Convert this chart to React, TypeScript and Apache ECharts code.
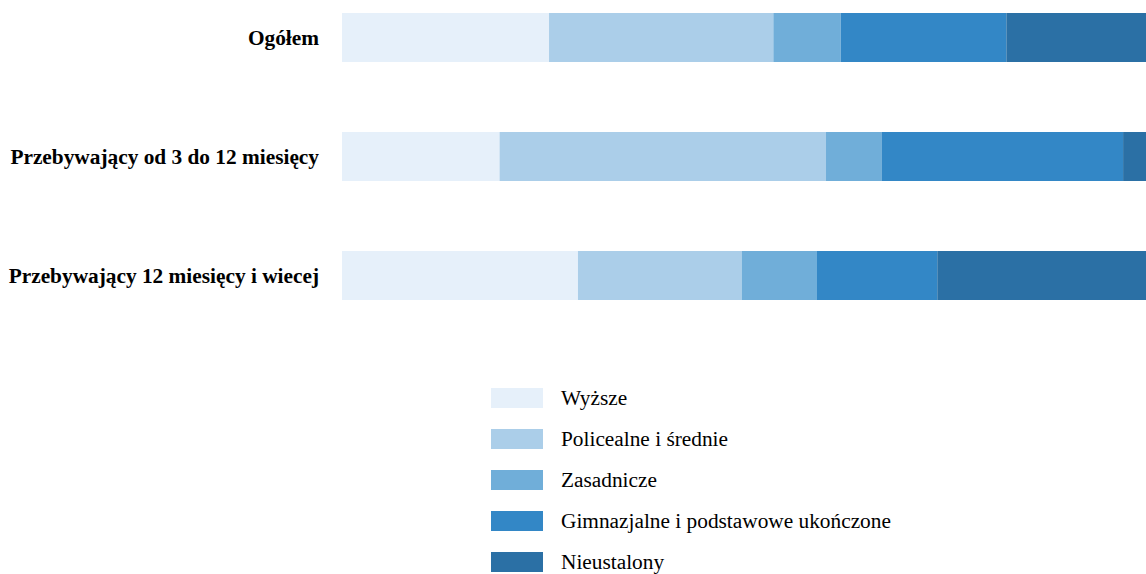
import React, { useEffect, useRef } from "react";
import * as echarts from "echarts";

const categories = [
  "Ogółem",
  "Przebywający od 3 do 12 miesięcy",
  "Przebywający 12 miesięcy i wiecej",
];
const seriesNames = [
  "Wyższe",
  "Policealne i średnie",
  "Zasadnicze",
  "Gimnazjalne i podstawowe ukończone",
  "Nieustalony",
];
const wyzsze = [25.75, 19.6, 29.35];
const policealne = [27.9, 40.6, 20.36];
const zasadnicze = [8.38, 6.9, 9.37];
const gimnazjalne = [20.6, 30.05, 14.96];
const nieustalony = [17.37, 2.85, 25.96];
const colors = ["#e6f0fa", "#abcee9", "#70aed9", "#3387c6", "#2b70a5"];

export default function App() {
  const ref = useRef<HTMLDivElement>(null);
  useEffect(() => {
    document.body.style.margin = "0";
    const chart = echarts.init(ref.current!, null, { renderer: "svg" });
    const data = [wyzsze, policealne, zasadnicze, gimnazjalne, nieustalony];
    chart.setOption({
      animation: false,
      color: colors,
      grid: { left: 342, right: 0, top: 37.5, height: 238, containLabel: false },
      xAxis: {
        type: "value",
        min: 0,
        max: 100,
        show: false,
      },
      yAxis: {
        type: "category",
        data: categories,
        inverse: true,
        boundaryGap: false,
        axisLine: { show: false },
        axisTick: { show: false },
        splitLine: { show: false },
        axisLabel: {
          margin: 23,
          fontFamily: "Liberation Serif",
          fontWeight: "bold",
          fontSize: 21.33,
          color: "#000",
        },
      },
      legend: {
        orient: "vertical",
        left: 491,
        top: 387.5,
        itemWidth: 52,
        itemHeight: 20,
        itemGap: 20,
        icon: "rect",
        data: seriesNames,
        textStyle: {
          fontFamily: "Liberation Serif",
          fontSize: 21.33,
          color: "#000",
          padding: [0, 0, 0, 13],
        },
        padding: 0,
      },
      series: seriesNames.map((name, i) => ({
        name,
        type: "bar",
        stack: "total",
        barWidth: 49,
        data: data[i],
        itemStyle: { color: colors[i] },
      })),
    });
    return () => chart.dispose();
  }, []);
  return (
    <div
      ref={ref}
      style={{ position: "absolute", left: 0, top: 0, width: 1146, height: 574 }}
    />
  );
}
